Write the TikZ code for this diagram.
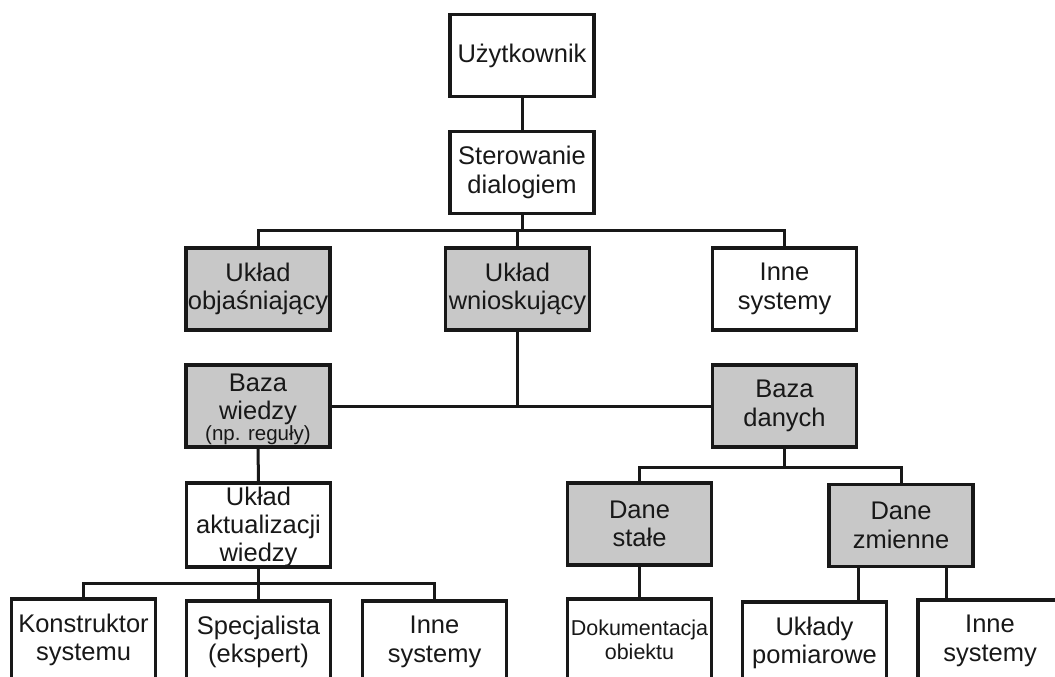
\documentclass[tikz,border=0pt]{standalone}
\usepackage{fontspec}
\setmainfont{Liberation Sans}
\definecolor{boxgray}{RGB}{200,200,200}
\definecolor{ink}{RGB}{24,24,24}
\tikzset{
  box/.style={draw=ink, line width=3.4pt, minimum width=144pt, minimum height=82pt,
    inner sep=0pt, align=center, font=\fontsize{25.5}{28.5}\selectfont, text=ink, fill=white},
  shaded/.style={box, fill=boxgray},
  link/.style={draw=ink, line width=3pt},
}
\begin{document}
\begin{tikzpicture}[x=1pt, y=-1pt]
\useasboundingbox (0,0) rectangle (1055,677);
\clip (0,0) rectangle (1055,677);

% upper part: user interface and inference
\node[box] (user) at (522,55.5) {Użytkownik};
\node[box] (dialog) at (522,172.5) {Sterowanie\\dialogiem};
\node[shaded] (expl) at (258,289) {Układ\\objaśniający};
\node[shaded] (infer) at (517.5,289) {Układ\\wnioskujący};
\node[box] (other1) at (784.5,289) {Inne\\systemy};

% knowledge base and database
\node[shaded] (kb) at (258,406) {\rule{0pt}{24pt}Baza\\wiedzy\\[-8pt]{\fontsize{20.5}{23}\selectfont (np. reguły)}};
\node[shaded] (db) at (784.5,406) {Baza\\danych};
\node[box, font=\fontsize{25.5}{28}\selectfont] (upd) at (258.5,525) {\rule{0pt}{23pt}Układ\\aktualizacji\\wiedzy};
\node[shaded] (const) at (639.5,524) {Dane\\stałe};
\node[shaded] (var) at (901,525.5) {Dane\\zmienne};

% bottom row
\node[box] (constr) at (83.5,640) {Konstruktor\\systemu};
\node[box] (spec) at (258.5,642) {Specjalista\\(ekspert)};
\node[box] (other2) at (434.5,642) {Inne\\systemy};
\node[box, font=\fontsize{21.5}{23.5}\selectfont] (doc) at (639.5,640) {Dokumentacja\\obiektu};
\node[box] (meas) at (814.5,643) {Układy\\pomiarowe};
\node[box] (other3) at (990,641) {Inne\\systemy};

% connectors
\coordinate (busA) at (522,230);
\coordinate (busB) at (258.5,583);
\coordinate (busC) at (784.5,467);

\draw[link] (user) -- (dialog);
\draw[link] (dialog.south) -- (busA);
\draw[link] (expl.north) |- (busA) -| (other1.north);
\draw[link] (infer.north) -- (infer.north |- busA);

\draw[link] (kb.east) -- (db.west);
\draw[link] (infer.south) -- (infer.south |- kb.east);

\draw[link] (kb.south) -- (upd.north);
\draw[link] (upd.south) -- (spec.north);
\draw[link] (constr.north) |- (busB) -| (other2.north);

\draw[link] (db.south) -- (busC);
\draw[link] (const.north) |- (busC) -| (var.north);
\draw[link] (const.south) -- (doc.north);
\draw[link] ([xshift=-43pt]var.south) -- ([xshift=-43pt]var.south |- meas.north);
\draw[link] ([xshift=45pt]var.south) -- ([xshift=45pt]var.south |- other3.north);
\end{tikzpicture}
\end{document}
